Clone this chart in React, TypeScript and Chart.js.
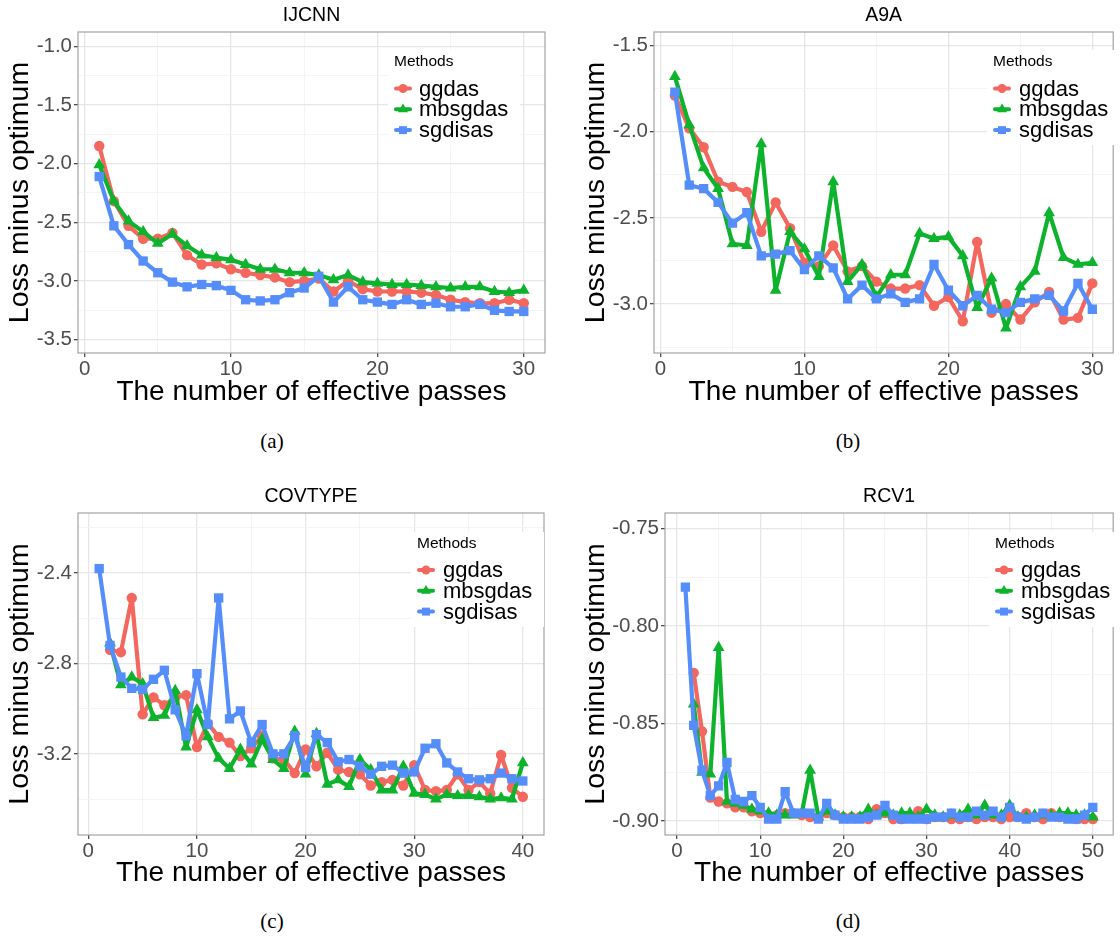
import React, { useEffect, useRef } from "react";
import { Chart, registerables } from "chart.js";
import { drawPoint } from "chart.js/helpers";

Chart.register(...registerables);

const FONT = '"Liberation Sans", Arial, Helvetica, sans-serif';
const COLORS = ["#F3675F", "#0DB32C", "#558EFA"];
const METHODS = ["ggdas", "mbsgdas", "sgdisas"];
const POINT_STYLES = ["circle", "triangle", "rect"];
const POINT_RADII = [5.2, 6.8, 6.6];
const DRAW_ORDER = [2, 1, 0];

// ---------- IJCNN ----------
const ijcnnGgdas = [-1.85, -2.32, -2.53, -2.64, -2.64, -2.59, -2.78, -2.86, -2.85, -2.9, -2.93, -2.95, -2.97, -3.01, -3.0, -2.98, -3.09, -3.0, -3.07, -3.09, -3.09, -3.09, -3.1, -3.12, -3.16, -3.18, -3.19, -3.19, -3.16, -3.19];
const ijcnnMbsgdas = [-2.01, -2.32, -2.49, -2.58, -2.68, -2.6, -2.7, -2.78, -2.8, -2.82, -2.86, -2.9, -2.9, -2.93, -2.93, -2.95, -2.99, -2.95, -3.01, -3.02, -3.03, -3.03, -3.04, -3.05, -3.06, -3.05, -3.05, -3.09, -3.1, -3.08];
const ijcnnSgdisas = [-2.11, -2.53, -2.69, -2.83, -2.93, -3.01, -3.05, -3.03, -3.04, -3.08, -3.16, -3.17, -3.16, -3.1, -3.06, -2.96, -3.18, -3.05, -3.16, -3.18, -3.2, -3.16, -3.2, -3.19, -3.22, -3.22, -3.2, -3.25, -3.26, -3.26];
const ijcnnYMajor = [-1.0, -1.5, -2.0, -2.5, -3.0, -3.5];
const ijcnnYMinor = [-1.25, -1.75, -2.25, -2.75, -3.25];

// ---------- A9A ----------
const a9aGgdas = [-1.79, -1.98, -2.09, -2.29, -2.32, -2.35, -2.58, -2.41, -2.56, -2.76, -2.78, -2.66, -2.81, -2.78, -2.87, -2.91, -2.91, -2.89, -3.01, -2.96, -3.1, -2.64, -3.05, -3.0, -3.09, -2.99, -2.93, -3.09, -3.08, -2.88];
const a9aMbsgdas = [-1.68, -1.96, -2.21, -2.33, -2.65, -2.66, -2.07, -2.92, -2.58, -2.68, -2.84, -2.29, -2.87, -2.77, -2.96, -2.83, -2.83, -2.59, -2.62, -2.61, -2.72, -3.02, -2.85, -3.14, -2.9, -2.81, -2.47, -2.73, -2.77, -2.76];
const a9aSgdisas = [-1.77, -2.31, -2.33, -2.41, -2.53, -2.47, -2.72, -2.71, -2.69, -2.8, -2.72, -2.79, -2.97, -2.89, -2.97, -2.94, -2.99, -2.97, -2.77, -2.92, -3.01, -2.95, -3.03, -3.05, -2.99, -2.97, -2.95, -3.04, -2.88, -3.03];
const a9aYMajor = [-1.5, -2.0, -2.5, -3.0];
const a9aYMinor = [-1.75, -2.25, -2.75, -3.25];

// ---------- COVTYPE ----------
const covGgdas = [null, -2.74, -2.75, -2.51, -3.025, -2.95, -2.985, -2.95, -2.94, -3.17, -3.065, -3.125, -3.15, -3.21, -3.175, -3.12, -3.22, -3.225, -3.285, -3.18, -3.255, -3.195, -3.27, -3.28, -3.29, -3.34, -3.325, -3.315, -3.34, -3.25, -3.36, -3.365, -3.36, -3.29, -3.36, -3.325, -3.375, -3.205, -3.35, -3.39];
const covMbsgdas = [null, -2.71, -2.895, -2.86, -2.89, -3.04, -3.03, -2.92, -3.17, -3.005, -3.125, -3.22, -3.265, -3.18, -3.245, -3.135, -3.225, -3.265, -3.1, -3.29, -3.11, -3.335, -3.315, -3.345, -3.225, -3.27, -3.36, -3.36, -3.255, -3.375, -3.38, -3.4, -3.38, -3.385, -3.385, -3.39, -3.4, -3.395, -3.4, -3.24];
const covSgdisas = [-2.38, -2.72, -2.86, -2.91, -2.915, -2.87, -2.83, -3.005, -3.12, -2.845, -3.07, -2.51, -3.045, -3.01, -3.15, -3.07, -3.2, -3.2, -3.12, -3.26, -3.115, -3.15, -3.235, -3.225, -3.255, -3.29, -3.255, -3.25, -3.285, -3.28, -3.175, -3.155, -3.24, -3.28, -3.31, -3.315, -3.31, -3.285, -3.31, -3.32];
const covYMajor = [-2.4, -2.8, -3.2];
const covYMinor = [-2.2, -2.6, -3.0, -3.4];

// ---------- RCV1 ----------
const rcvGgdas = [null, -0.824, -0.854, -0.888, -0.89, -0.891, -0.893, -0.893, -0.895, -0.896, -0.897, -0.897, -0.896, -0.896, -0.897, -0.898, -0.898, -0.896, -0.897, -0.898, -0.898, -0.898, -0.899, -0.894, -0.896, -0.899, -0.899, -0.898, -0.895, -0.899, -0.898, -0.898, -0.899, -0.899, -0.898, -0.899, -0.898, -0.898, -0.899, -0.898, -0.898, -0.896, -0.898, -0.899, -0.896, -0.898, -0.898, -0.899, -0.899, -0.899];
const rcvMbsgdas = [null, -0.84, -0.875, -0.876, -0.811, -0.89, -0.891, -0.892, -0.894, -0.895, -0.896, -0.897, -0.897, -0.897, -0.896, -0.874, -0.898, -0.895, -0.897, -0.898, -0.898, -0.898, -0.894, -0.897, -0.896, -0.897, -0.896, -0.896, -0.898, -0.894, -0.897, -0.898, -0.897, -0.897, -0.894, -0.897, -0.892, -0.897, -0.897, -0.892, -0.898, -0.898, -0.897, -0.897, -0.897, -0.896, -0.896, -0.897, -0.897, -0.898];
const rcvSgdisas = [-0.78, -0.851, -0.874, -0.887, -0.882, -0.87, -0.889, -0.89, -0.887, -0.893, -0.899, -0.899, -0.885, -0.896, -0.896, -0.896, -0.899, -0.891, -0.897, -0.899, -0.899, -0.899, -0.898, -0.897, -0.892, -0.897, -0.899, -0.899, -0.899, -0.899, -0.898, -0.898, -0.896, -0.898, -0.898, -0.895, -0.897, -0.895, -0.898, -0.893, -0.898, -0.899, -0.898, -0.896, -0.898, -0.898, -0.899, -0.899, -0.897, -0.893];
const rcvYMajor = [-0.75, -0.8, -0.85, -0.9];
const rcvYMinor = [-0.775, -0.825, -0.875];

// ---------- x axis ticks ----------
const xMajor30 = [0, 10, 20, 30];
const xMinor30 = [5, 15, 25];
const xMajor40 = [0, 10, 20, 30, 40];
const xMinor40 = [5, 15, 25, 35];
const xMajor50 = [0, 10, 20, 30, 40, 50];
const xMinor50 = [5, 15, 25, 35, 45];

type Legend = { box: number[]; titleX: number; titleY: number; keyX: number; textX: number; itemY: number; step: number };
type Panel = {
  title: string; left: number; top: number;
  series: (number | null)[][];
  xMin: number; xMax: number; xMajor: number[]; xMinor: number[];
  yMin: number; yMax: number; yMajor: number[]; yMinor: number[]; yDec: number;
  yAxisWidth: number; yTitlePad: number; padRight: number; xAxisHeight: number;
  legend: Legend; caption: string; capX: number; capY: number;
};

const PANELS: Panel[] = [
  {
    title: "IJCNN", left: 0, top: 0, series: [ijcnnGgdas, ijcnnMbsgdas, ijcnnSgdisas],
    xMin: -0.45, xMax: 31.45, xMajor: xMajor30, xMinor: xMinor30,
    yMin: -3.614, yMax: -0.878, yMajor: ijcnnYMajor, yMinor: ijcnnYMinor, yDec: 1,
    yAxisWidth: 78, yTitlePad: 3, padRight: 15, xAxisHeight: 67,
    legend: { box: [388, 50, 132, 95], titleX: 394, titleY: 62, keyX: 403, textX: 419, itemY: 88.5, step: 20.8 },
    caption: "(a)", capX: 272, capY: 441,
  },
  {
    title: "A9A", left: 560, top: 0, series: [a9aGgdas, a9aMbsgdas, a9aSgdisas],
    xMin: -0.45, xMax: 31.45, xMajor: xMajor30, xMinor: xMinor30,
    yMin: -3.284, yMax: -1.421, yMajor: a9aYMajor, yMinor: a9aYMinor, yDec: 1,
    yAxisWidth: 94, yTitlePad: 19, padRight: 0, xAxisHeight: 67,
    legend: { box: [427, 50, 133, 95], titleX: 433, titleY: 62, keyX: 442, textX: 459, itemY: 88.5, step: 20.8 },
    caption: "(b)", capX: 848, capY: 441,
  },
  {
    title: "COVTYPE", left: 0, top: 481, series: [covGgdas, covMbsgdas, covSgdisas],
    xMin: -0.95, xMax: 41.95, xMajor: xMajor40, xMinor: xMinor40,
    yMin: -3.559, yMax: -2.134, yMajor: covYMajor, yMinor: covYMinor, yDec: 1,
    yAxisWidth: 78, yTitlePad: 3, padRight: 16, xAxisHeight: 66,
    legend: { box: [411, 51, 133, 95], titleX: 417, titleY: 63, keyX: 426, textX: 443, itemY: 89, step: 20.8 },
    caption: "(c)", capX: 272, capY: 921,
  },
  {
    title: "RCV1", left: 560, top: 481, series: [rcvGgdas, rcvMbsgdas, rcvSgdisas],
    xMin: -1.45, xMax: 52.45, xMajor: xMajor50, xMinor: xMinor50,
    yMin: -0.9072, yMax: -0.742, yMajor: rcvYMajor, yMinor: rcvYMinor, yDec: 2,
    yAxisWidth: 105, yTitlePad: 19, padRight: 0, xAxisHeight: 66,
    legend: { box: [429, 51, 131, 95], titleX: 435, titleY: 63, keyX: 444, textX: 461, itemY: 89, step: 20.8 },
    caption: "(d)", capX: 848, capY: 921,
  },
];

const isIn = (arr: number[], v: number) => arr.some((a) => Math.abs(a - v) < 1e-9);

const panelBorder = {
  id: "panelBorder",
  afterDatasetsDraw(chart: any) {
    const { left, top, right, bottom } = chart.chartArea;
    const ctx = chart.ctx;
    ctx.save();
    ctx.strokeStyle = "#a3a3a3";
    ctx.lineWidth = 1.2;
    ctx.strokeRect(left, top, right - left, bottom - top);
    ctx.restore();
  },
};

const methodsLegend = {
  id: "methodsLegend",
  afterDraw(chart: any, _args: any, opts: any) {
    const ctx = chart.ctx;
    const [bx, by, bw, bh] = opts.box;
    ctx.save();
    ctx.fillStyle = "#ffffff";
    ctx.fillRect(bx, by, bw, bh);
    ctx.fillStyle = "#000000";
    ctx.textBaseline = "middle";
    ctx.textAlign = "left";
    ctx.font = `15.5px ${FONT}`;
    ctx.fillText("Methods", opts.titleX, opts.titleY);
    chart.data.datasets.forEach((ds: any, i: number) => {
      const y = opts.itemY + i * opts.step;
      ctx.strokeStyle = ds.borderColor;
      ctx.lineWidth = 4;
      ctx.lineCap = "round";
      ctx.beginPath();
      ctx.moveTo(opts.keyX - 7, y);
      ctx.lineTo(opts.keyX + 7, y);
      ctx.stroke();
      ctx.fillStyle = ds.borderColor;
      drawPoint(ctx, { pointStyle: ds.pointStyle, radius: ds.pointRadius * 0.85, borderWidth: 0, rotation: 0 } as any, opts.keyX, y);
      ctx.fillStyle = "#000000";
      ctx.font = `22px ${FONT}`;
      ctx.fillText(ds.label, opts.textX, y + 1);
    });
    ctx.restore();
  },
};

function buildChart(canvas: HTMLCanvasElement, p: Panel) {
  const datasets = p.series.map((vals, i) => ({
    label: METHODS[i],
    data: vals.map((v, j) => ({ x: j + 1, y: v })),
    borderColor: COLORS[i],
    backgroundColor: COLORS[i],
    pointBackgroundColor: COLORS[i],
    borderWidth: 4.2,
    borderJoinStyle: "round",
    borderCapStyle: "round",
    pointStyle: POINT_STYLES[i],
    pointRadius: POINT_RADII[i],
    pointBorderWidth: 0,
    pointHoverRadius: POINT_RADII[i],
    tension: 0,
    spanGaps: false,
    order: DRAW_ORDER[i],
  }));

  const gridColor = (major: number[]) => (ctx: any) =>
    ctx.tick && isIn(major, ctx.tick.value) ? "#e6e6e6" : "#f3f3f3";
  const gridWidth = (major: number[]) => (ctx: any) =>
    ctx.tick && isIn(major, ctx.tick.value) ? 1.3 : 0.9;
  const tickColor = (major: number[]) => (ctx: any) =>
    ctx.tick && isIn(major, ctx.tick.value) ? "#4d4d4d" : "rgba(0,0,0,0)";

  return new Chart(canvas, {
    type: "line",
    data: { datasets } as any,
    plugins: [panelBorder, methodsLegend],
    options: {
      responsive: false,
      maintainAspectRatio: false,
      animation: false,
      events: [],
      layout: { padding: { left: 0, right: p.padRight, top: 0, bottom: 0 } },
      plugins: {
        legend: { display: false },
        tooltip: { enabled: false },
        title: {
          display: true,
          text: p.title,
          fullSize: false,
          color: "#000000",
          font: { family: FONT, size: 19.5, weight: "normal" },
          padding: { top: 4, bottom: 4.6 },
        },
        methodsLegend: p.legend,
      } as any,
      scales: {
        x: {
          type: "linear",
          min: p.xMin,
          max: p.xMax,
          afterBuildTicks: (s: any) => {
            s.ticks = [...p.xMajor, ...p.xMinor].sort((a, b) => a - b).map((v) => ({ value: v }));
          },
          afterFit: (s: any) => {
            s.height = p.xAxisHeight;
          },
          ticks: {
            autoSkip: false,
            maxRotation: 0,
            padding: 0,
            color: "#4d4d4d",
            font: { family: FONT, size: 20.5 },
            callback: (v: any) => (isIn(p.xMajor, Number(v)) ? String(v) : ""),
          },
          grid: {
            color: gridColor(p.xMajor),
            lineWidth: gridWidth(p.xMajor),
            tickColor: tickColor(p.xMajor),
            tickLength: 4,
          },
          border: { display: false },
          title: {
            display: true,
            text: "The number of effective passes",
            color: "#000000",
            font: { family: FONT, size: 28 },
            padding: { top: 0, bottom: 10.5 },
          },
        },
        y: {
          type: "linear",
          min: p.yMin,
          max: p.yMax,
          afterBuildTicks: (s: any) => {
            s.ticks = [...p.yMajor, ...p.yMinor].sort((a, b) => a - b).map((v) => ({ value: v }));
          },
          afterFit: (s: any) => {
            s.width = p.yAxisWidth;
          },
          ticks: {
            autoSkip: false,
            padding: 2,
            color: "#4d4d4d",
            font: { family: FONT, size: 20.5 },
            callback: (v: any) => (isIn(p.yMajor, Number(v)) ? Number(v).toFixed(p.yDec) : ""),
          },
          grid: {
            color: gridColor(p.yMajor),
            lineWidth: gridWidth(p.yMajor),
            tickColor: tickColor(p.yMajor),
            tickLength: 4,
          },
          border: { display: false },
          title: {
            display: true,
            text: "Loss minus optimum",
            color: "#000000",
            font: { family: FONT, size: 28.5 },
            padding: { top: p.yTitlePad, bottom: 0 },
          },
        },
      },
    } as any,
  });
}

function PanelChart({ p }: { p: Panel }) {
  const ref = useRef<HTMLCanvasElement | null>(null);
  useEffect(() => {
    if (!ref.current) return;
    const chart = buildChart(ref.current, p);
    return () => chart.destroy();
  }, [p]);
  return (
    <canvas
      ref={ref}
      width={560}
      height={420}
      style={{ position: "absolute", left: p.left, top: p.top, width: 560, height: 420, display: "block" }}
    />
  );
}

export default function App() {
  return (
    <div style={{ position: "absolute", left: 0, top: 0, width: 1120, height: 936, background: "#ffffff", overflow: "hidden" }}>
      {PANELS.map((p) => (
        <PanelChart key={p.title} p={p} />
      ))}
      {PANELS.map((p) => (
        <div
          key={p.caption}
          style={{
            position: "absolute",
            left: p.capX,
            top: p.capY,
            transform: "translate(-50%, -50%)",
            fontFamily: '"Liberation Serif", "DejaVu Serif", serif',
            fontSize: 21,
            color: "#000",
            whiteSpace: "nowrap",
          }}
        >
          {p.caption}
        </div>
      ))}
    </div>
  );
}
